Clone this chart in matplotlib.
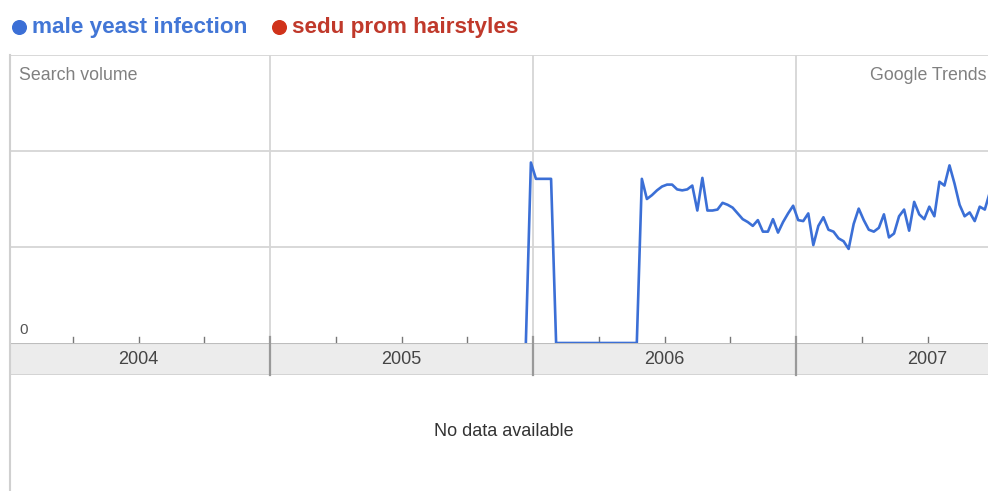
import numpy as np
import pandas as pd
import matplotlib
matplotlib.use("Agg")
import matplotlib.pyplot as plt
from matplotlib.lines import Line2D

# ── Data (weekly search volume) ─────────────────────────────────────────────
SERIES_NAMES = ["male yeast infection", "sedu prom hairstyles"]
SERIES_COLORS = ["#3b6fd6", "#d0321a"]
YEARS = [2004, 2005, 2006, 2007]
START_DATE = "2005-12-22"
VOLUME = [
    0.00, 1.88, 1.71, 1.71, 1.71, 1.71,
    0.00, 0.00, 0.00, 0.00, 0.00, 0.00, 0.00, 0.00,
    0.00, 0.00, 0.00, 0.00, 0.00, 0.00, 0.00, 0.00, 0.00,
    1.71, 1.50, 1.54, 1.59, 1.63, 1.65, 1.65, 1.60, 1.59, 1.60, 1.64,
    1.38, 1.72, 1.38, 1.38, 1.39, 1.46, 1.44, 1.41, 1.35, 1.29, 1.26,
    1.22, 1.28, 1.16, 1.16, 1.29, 1.15, 1.26, 1.35, 1.43, 1.28, 1.27,
    1.35, 1.02, 1.22, 1.31, 1.18, 1.16, 1.09, 1.06, 0.98, 1.24, 1.40,
    1.28, 1.18, 1.16, 1.20, 1.34, 1.10, 1.14, 1.32, 1.39, 1.17, 1.47,
    1.34, 1.29, 1.42, 1.32, 1.68, 1.64, 1.85, 1.66, 1.44, 1.32, 1.36,
    1.27, 1.42, 1.39, 1.57,
]
X_MIN, X_MAX = 2004.011, 2007.730
Y_MAX = 3.0

GRID = "#d6d6d6"
TXT = "#808080"
FONT = "Liberation Sans"


def frac_year(dates):
    days = np.where(dates.is_leap_year, 366.0, 365.0)
    return dates.year + (dates.dayofyear - 1) / days


def main():
    plt.rcParams["font.family"] = [FONT, "DejaVu Sans"]
    dates = pd.date_range(START_DATE, periods=len(VOLUME), freq="7D")
    x = frac_year(dates)

    W, H = 988, 491
    fig = plt.figure(figsize=(W / 100, H / 100), dpi=100)
    fig.patch.set_facecolor("white")

    # main plot area
    ax = fig.add_axes([10 / W, (H - 343) / H, (W - 10) / W, 288 / H])
    ax.set_xlim(X_MIN, X_MAX)
    ax.set_ylim(0, Y_MAX)
    for s in ax.spines.values():
        s.set_visible(False)
    ax.set_xticks([])
    ax.set_yticks([])
    for yv in [1, 2, 3]:
        ax.axhline(yv, color=GRID, lw=1.3, zorder=1)
    for yr in YEARS[1:]:
        ax.axvline(yr, color=GRID, lw=1.3, zorder=1)
    # quarter ticks
    for yr in YEARS:
        for q in (0.25, 0.5, 0.75):
            ax.plot([yr + q, yr + q], [0, 0.06], color="#777777", lw=1, zorder=2)
    ax.plot(x, VOLUME, color=SERIES_COLORS[0], lw=1.9, zorder=3, clip_on=False)
    ax.text(0.0095, 0.958, "Search volume", transform=ax.transAxes,
            fontsize=12.8, color=TXT, va="top", ha="left")
    ax.text(0.998, 0.958, "Google Trends", transform=ax.transAxes,
            fontsize=12.8, color=TXT, va="top", ha="right")
    ax.text(0.0095, 0.02, "0", transform=ax.transAxes,
            fontsize=11, color="#555555", va="bottom", ha="left")

    # year band
    band = fig.add_axes([10 / W, (H - 375) / H, (W - 10) / W, 32 / H])
    band.set_xlim(X_MIN, X_MAX)
    band.set_ylim(0, 1)
    band.set_facecolor("#ececec")
    for s in band.spines.values():
        s.set_visible(False)
    band.set_xticks([])
    band.set_yticks([])
    band.axhline(1, color="#bdbdbd", lw=1.5)
    band.axhline(0, color="#d0d0d0", lw=1.2)
    for yr in YEARS[1:]:
        band.plot([yr, yr], [0, 1.2], color="#999999", lw=1.6, clip_on=False)
        band.text(yr - 0.5, 0.5, str(yr - 1), ha="center", va="center",
                  fontsize=13, color="#444444")
    band.text(YEARS[-1] + 0.5, 0.5, str(YEARS[-1]), ha="center", va="center",
              fontsize=13, color="#444444")

    # frame lines
    fig.add_artist(Line2D([10 / W, 10 / W], [0, (H - 55) / H],
                          color="#d0d0d0", lw=1.5))
    fig.text(504 / W, (H - 432) / H, "No data available", ha="center",
             va="center", fontsize=13, color="#333333")

    # legend
    fig.add_artist(Line2D([18.5 / W], [(H - 27) / H], marker="o", markersize=9.8,
                          color=SERIES_COLORS[0], lw=0))
    fig.text(32 / W, (H - 27) / H, SERIES_NAMES[0], fontsize=16.2,
             fontweight="bold", color="#4276d6", va="center")
    fig.add_artist(Line2D([279 / W], [(H - 27) / H], marker="o", markersize=9.8,
                          color=SERIES_COLORS[1], lw=0))
    fig.text(292 / W, (H - 27) / H, SERIES_NAMES[1], fontsize=16.2,
             fontweight="bold", color="#c0392b", va="center")

    fig.savefig("out.png", dpi=100)


if __name__ == "__main__":
    main()
